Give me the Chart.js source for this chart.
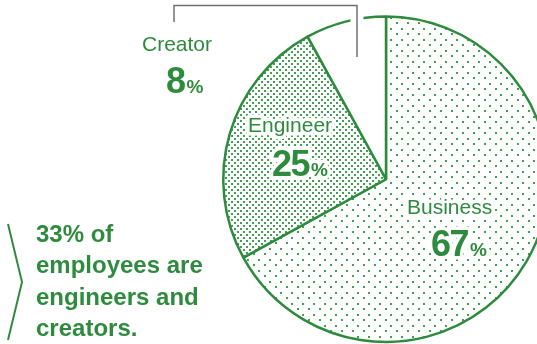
<!DOCTYPE html>
<html>
<head>
<meta charset="utf-8">
<script src="https://cdn.jsdelivr.net/npm/chart.js@4/dist/chart.umd.min.js"></script>
<style>
  html, body { margin: 0; padding: 0; background: #fff; }
  #wrap { width: 537px; height: 344px; overflow: hidden; position: relative; }
  #staff { display: block; }
</style>
</head>
<body>
<div id="wrap"><canvas id="staff" width="560" height="344"></canvas></div>
<script>
// share of employees by job type
var categories = ['Business', 'Engineer', 'Creator'];
var shares = [67, 25, 8];
var noteLines = ['% of', 'employees are', 'engineers and', 'creators.'];

var green = '#2e8b3e';
var dotGreen = '#41a052';
var FONT = "'Liberation Sans', Arial, Helvetica, sans-serif";

function dotPattern(w, h, dots) {
    var c = document.createElement('canvas');
    c.width = w;
    c.height = h;
    var g = c.getContext('2d');
    g.fillStyle = '#fff';
    g.fillRect(0, 0, w, h);
    g.fillStyle = dotGreen;
    dots.forEach(function (d) { g.fillRect(d[0], d[1], 2, 2); });
    return g.createPattern(c, 'repeat');
}

var ctx0 = document.getElementById('staff').getContext('2d');
var sparse = dotPattern(11, 11, [[0, 0], [5, 6]]);
var dense = dotPattern(6, 6, [[0, 0], [3, 3]]);

// text anchors relative to the pie centre: [dx, dy of name, dy of number]
var labelAt = [[21, 35, 77], [-138, -47, -3], [-244, -128, -86]];

function halo(ctx, text, x, y) {
    ctx.lineWidth = 7;
    ctx.lineJoin = 'round';
    ctx.strokeStyle = '#fff';
    ctx.strokeText(text, x, y);
}

var decorations = {
    id: 'decorations',
    afterDatasetsDraw: function (chart) {
        var ctx = chart.ctx;
        var arcs = chart.getDatasetMeta(0).data;
        var cx = arcs[0].x, cy = arcs[0].y;
        ctx.save();

        // leader bracket over the Creator slice, knocked out of the outline
        ctx.strokeStyle = '#fff';
        ctx.lineWidth = 13;
        ctx.beginPath();
        ctx.moveTo(357, 8);
        ctx.lineTo(357, 57);
        ctx.stroke();
        ctx.strokeStyle = '#707070';
        ctx.lineWidth = 1.5;
        ctx.beginPath();
        ctx.moveTo(174, 22);
        ctx.lineTo(174, 5.5);
        ctx.lineTo(357, 5.5);
        ctx.lineTo(357, 57);
        ctx.stroke();

        // slice labels
        ctx.textBaseline = 'alphabetic';
        ctx.textAlign = 'left';
        categories.forEach(function (name, i) {
            var x = cx + labelAt[i][0];
            var yName = cy + labelAt[i][1];
            var yNum = cy + labelAt[i][2];
            var num = String(shares[i]);
            ctx.font = 'bold 36px ' + FONT;
            ctx.letterSpacing = '-1.5px';
            var numW = ctx.measureText(num).width;
            var xPct = x + 24 + numW + 2;

            ctx.font = '21px ' + FONT;
            ctx.letterSpacing = '0px';
            halo(ctx, name, x, yName);
            ctx.font = 'bold 36px ' + FONT;
            ctx.letterSpacing = '-1.5px';
            halo(ctx, num, x + 24, yNum);
            ctx.font = 'bold 19px ' + FONT;
            ctx.letterSpacing = '0px';
            halo(ctx, '%', xPct, yNum);

            ctx.fillStyle = green;
            ctx.font = '21px ' + FONT;
            ctx.fillText(name, x, yName);
            ctx.font = 'bold 36px ' + FONT;
            ctx.letterSpacing = '-1.5px';
            ctx.fillText(num, x + 24, yNum);
            ctx.font = 'bold 19px ' + FONT;
            ctx.letterSpacing = '0px';
            ctx.fillText('%', xPct, yNum);
        });

        // side note with the chevron
        ctx.strokeStyle = green;
        ctx.lineWidth = 2;
        ctx.lineJoin = 'miter';
        ctx.beginPath();
        ctx.moveTo(8, 224);
        ctx.lineTo(22, 282);
        ctx.lineTo(8, 340);
        ctx.stroke();

        ctx.fillStyle = green;
        ctx.font = 'bold 24px ' + FONT;
        var lines = noteLines.slice();
        lines[0] = (shares[1] + shares[2]) + lines[0];
        lines.forEach(function (t, k) {
            ctx.fillText(t, 36, 242 + k * 31.3);
        });
        ctx.restore();
    }
};

new Chart(ctx0, {
    type: 'pie',
    data: {
        labels: categories,
        datasets: [{
            data: shares,
            backgroundColor: [sparse, dense, '#ffffff'],
            borderColor: green,
            borderWidth: 2.5,
            hoverOffset: 0,
            hoverBorderWidth: 2.5
        }]
    },
    options: {
        responsive: false,
        animation: false,
        events: [],
        layout: { padding: { left: 222, right: 10, top: 15, bottom: 0.5 } },
        plugins: {
            legend: { display: false },
            tooltip: { enabled: false }
        }
    },
    plugins: [decorations]
});
</script>
</body>
</html>
